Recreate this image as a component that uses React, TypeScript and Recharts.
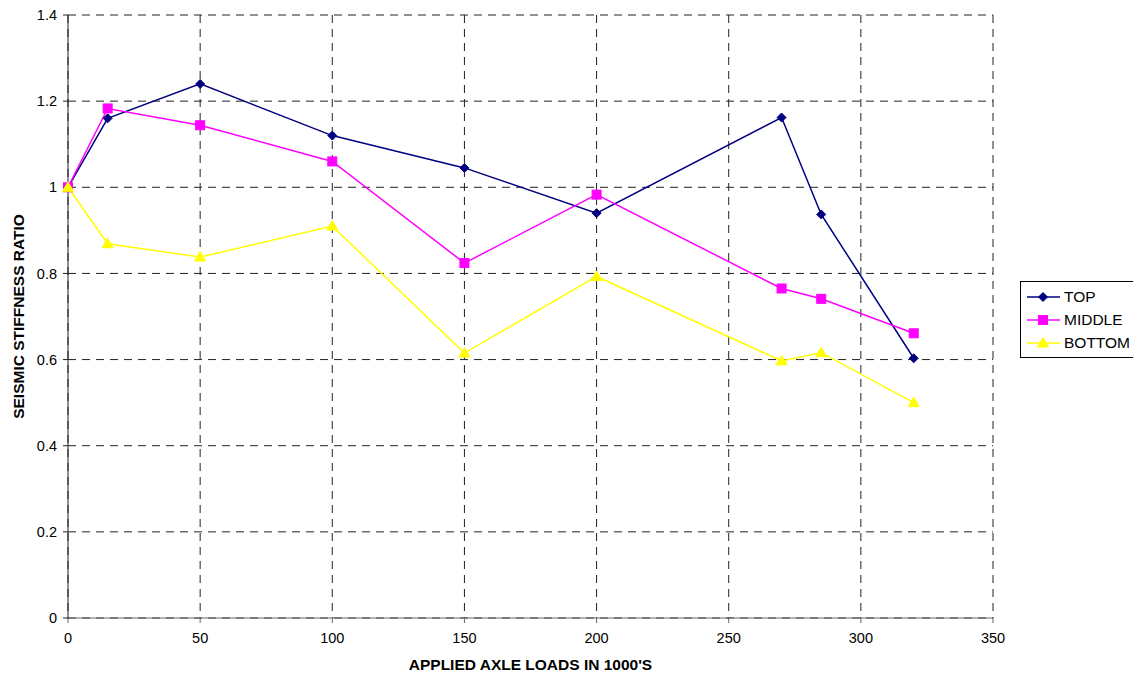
import { LineChart, Line, XAxis, YAxis, CartesianGrid, Legend } from "recharts"

const loads = [0, 15, 50, 100, 150, 200, 270, 285, 320]
const top = [1.0, 1.16, 1.24, 1.12, 1.045, 0.94, 1.162, 0.937, 0.603]
const middle = [1.0, 1.183, 1.144, 1.06, 0.824, 0.983, 0.765, 0.741, 0.661]
const bottom = [1.0, 0.869, 0.838, 0.91, 0.615, 0.793, 0.597, 0.616, 0.5]

const xTicks = [0, 50, 100, 150, 200, 250, 300, 350]
const yTicks = [0, 0.2, 0.4, 0.6, 0.8, 1, 1.2, 1.4]

const series = [
  { key: "top", name: "TOP", color: "#000080", shape: "diamond" },
  { key: "middle", name: "MIDDLE", color: "#FF00FF", shape: "square" },
  { key: "bottom", name: "BOTTOM", color: "#FFFF00", shape: "triangle" },
]

const data = loads.map((x, i) => ({ x, top: top[i], middle: middle[i], bottom: bottom[i] }))

const font = "Liberation Sans, Arial, sans-serif"

function Marker({ cx, cy, shape, color }: any) {
  if (cx == null || cy == null) return null
  if (shape === "diamond") {
    const r = 4.5
    return <polygon points={`${cx},${cy - r} ${cx + r},${cy} ${cx},${cy + r} ${cx - r},${cy}`} fill={color} stroke={color} />
  }
  if (shape === "square") {
    return <rect x={cx - 4.5} y={cy - 4.5} width={9} height={9} fill={color} stroke={color} />
  }
  return <polygon points={`${cx},${cy - 5.5} ${cx + 5.5},${cy + 4} ${cx - 5.5},${cy + 4}`} fill={color} stroke={color} />
}

function LegendBox() {
  return (
    <div style={{ border: "1px solid #000", background: "#fff", width: 118, padding: "3px 0", fontFamily: font, fontSize: 15.5 }}>
      {series.map((s) => (
        <div key={s.key} style={{ display: "flex", alignItems: "center", height: 23 }}>
          <svg width={38} height={14} style={{ marginLeft: 5 }}>
            <line x1={1} y1={7} x2={34} y2={7} stroke={s.color} strokeWidth={1.5} />
            <Marker cx={17} cy={7} shape={s.shape} color={s.color} />
          </svg>
          <span>{s.name}</span>
        </div>
      ))}
    </div>
  )
}

export default function App() {
  const tick = { fontSize: 14.5, fill: "#000", fontFamily: font }
  return (
    <div style={{ width: 1133, height: 669 }}>
      <LineChart width={1133} height={669} data={data} margin={{ top: 7, right: 28, left: 20, bottom: 29 }}>
        <CartesianGrid stroke="#222" strokeDasharray="8 6" strokeWidth={1} />
        <XAxis
          dataKey="x"
          type="number"
          domain={[0, 350]}
          ticks={xTicks}
          tick={tick}
          tickSize={5}
          tickMargin={10}
          height={30}
          stroke="#666"
          interval={0}
          label={{ value: "APPLIED AXLE LOADS IN 1000'S", position: "insideBottom", offset: -22, style: { fontSize: 15.5, fontWeight: "bold", fill: "#000", fontFamily: font } }}
        />
        <YAxis
          type="number"
          domain={[0, 1.4]}
          ticks={yTicks}
          tick={tick}
          tickSize={5}
          tickMargin={6}
          width={40}
          stroke="#222"
          interval={0}
          label={{ value: "SEISMIC STIFFNESS RATIO", angle: -90, position: "insideLeft", offset: -10, style: { textAnchor: "middle", fontSize: 15.5, fontWeight: "bold", fill: "#000", fontFamily: font } }}
        />
        <Legend
          layout="vertical"
          align="right"
          verticalAlign="top"
          wrapperStyle={{ left: 1012, top: 273, width: 120 }}
          content={() => <LegendBox />}
        />
        {series.map((s) => (
          <Line
            key={s.key}
            type="linear"
            dataKey={s.key}
            name={s.name}
            stroke={s.color}
            strokeWidth={1.5}
            isAnimationActive={false}
            dot={(p: any) => <Marker key={`${s.key}-${p.index}`} cx={p.cx} cy={p.cy} shape={s.shape} color={s.color} />}
            activeDot={false}
          />
        ))}
      </LineChart>
    </div>
  )
}
